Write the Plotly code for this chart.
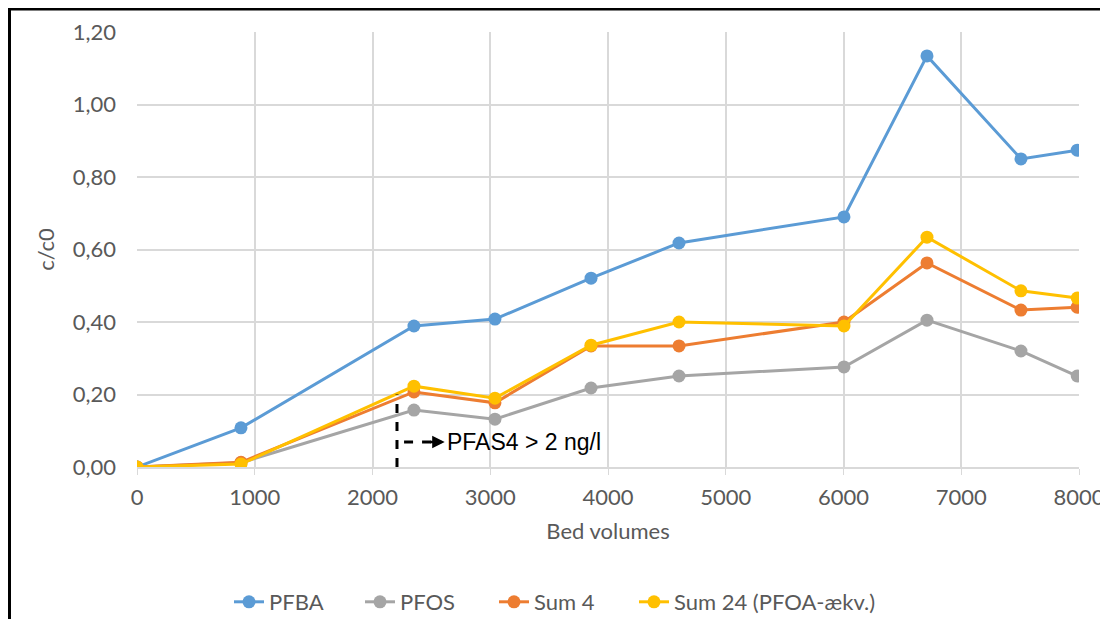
import plotly.graph_objects as go

bed_volumes = [0, 883, 2352, 3040, 3856, 4603, 6004, 6709, 7507, 7985]
pfba = [0.0, 0.108, 0.389, 0.408, 0.521, 0.618, 0.690, 1.134, 0.850, 0.874]
pfos = [0.0, 0.012, 0.157, 0.132, 0.218, 0.251, 0.276, 0.405, 0.320, 0.251]
sum4 = [0.0, 0.013, 0.207, 0.177, 0.334, 0.334, 0.400, 0.563, 0.433, 0.441]
sum24 = [0.0, 0.008, 0.223, 0.190, 0.336, 0.400, 0.389, 0.634, 0.486, 0.466]

series_names = ["PFBA", "PFOS", "Sum 4", "Sum 24 (PFOA-ækv.)"]
series_values = [pfba, pfos, sum4, sum24]
colors = ["#5B9BD5", "#A5A5A5", "#ED7D31", "#FFC000"]

threshold_bv = 2208
threshold_label = "PFAS4 > 2 ng/l"

x_ticks = [0, 1000, 2000, 3000, 4000, 5000, 6000, 7000, 8000]
y_ticks = [0, 0.2, 0.4, 0.6, 0.8, 1.0, 1.2]

font_family = "Lato, 'Open Sans', sans-serif"
grey = "#595959"

# page offset of the figure (default body margin)
OFF = 8
W, H = 1100, 611
L = 137 - OFF
T = 32 - OFF
R = (W + OFF) - 1079
B = (H + OFF) - 467
pw, ph = W - L - R, H - T - B

def px_x(p):
    return (p - OFF - L) / pw

def px_y(p):
    return (H + OFF - B - p) / ph

legend_ids = ["legend", "legend2", "legend3", "legend4"]
legend_starts = [229, 360, 494, 634]

fig = go.Figure()
for name, vals, col, lid in zip(series_names, series_values, colors, legend_ids):
    fig.add_trace(go.Scatter(
        x=bed_volumes, y=vals, name=name, mode="lines+markers",
        line=dict(color=col, width=3),
        marker=dict(color=col, size=13),
        legend=lid, showlegend=True,
    ))

shapes = [
    # outer frame (left and top edges of the original screenshot)
    dict(type="line", xref="paper", yref="paper", x0=px_x(9.5), x1=px_x(9.5), y0=px_y(8), y1=px_y(640),
         line=dict(color="black", width=3)),
    dict(type="line", xref="paper", yref="paper", x0=px_x(8), x1=px_x(1120), y0=px_y(9), y1=px_y(9),
         line=dict(color="black", width=3)),
    # threshold vertical dashed line
    dict(type="line", xref="x", yref="y", x0=threshold_bv, x1=threshold_bv, y0=0, y1=0.2,
         line=dict(color="black", width=3, dash="dash")),
    # horizontal dashed arrow shaft
    dict(type="line", xref="x", yref="y", x0=threshold_bv + 60, x1=threshold_bv + 290, y0=0.069, y1=0.069,
         line=dict(color="black", width=3, dash="dash")),
]

annotations = [
    dict(x=threshold_bv + 405, y=0.069, ax=threshold_bv + 270, ay=0.069, xref="x", yref="y",
         axref="x", ayref="y", showarrow=True, arrowhead=2, arrowsize=1, arrowwidth=2.5,
         arrowcolor="black", text=""),
    dict(x=threshold_bv + 405, y=0.069, xref="x", yref="y", text=threshold_label, showarrow=False,
         xanchor="left", yanchor="middle",
         font=dict(family="Liberation Sans, Arial, sans-serif", size=23, color="black")),
]

legend_layout = {}
for lid, start in zip(legend_ids, legend_starts):
    legend_layout[lid] = dict(orientation="h", x=px_x(start), xanchor="left", y=px_y(602),
                              yanchor="middle", font=dict(size=22, color=grey),
                              bgcolor="rgba(0,0,0,0)")

fig.update_layout(
    width=W, height=H,
    showlegend=True,
    margin=dict(l=L, r=R, t=T, b=B, autoexpand=False),
    plot_bgcolor="white", paper_bgcolor="white",
    separators=", ",
    font=dict(family=font_family, color=grey, size=22),
    shapes=shapes, annotations=annotations,
    xaxis=dict(range=[0, 8000], tickvals=x_ticks, showgrid=True, gridcolor="#d9d9d9", gridwidth=1.5,
               showline=True, linecolor="#d9d9d9", linewidth=1.5, ticks="outside", ticklen=6,
               tickcolor="#d9d9d9", zeroline=False, ticklabelstandoff=4, automargin=False,
               title=dict(text="Bed volumes", font=dict(size=22, color=grey), standoff=14),
               tickfont=dict(size=22, color=grey)),
    yaxis=dict(range=[0, 1.2], tickvals=y_ticks, tickformat=".2f", showgrid=True, gridcolor="#d9d9d9",
               gridwidth=1.5, zeroline=False, showline=False, ticks="", ticklabelstandoff=20,
               automargin=False,
               title=dict(text="c/c0", font=dict(size=22, color=grey), standoff=12),
               tickfont=dict(size=22, color=grey)),
    **legend_layout,
)

fig.write_html("out.html")
